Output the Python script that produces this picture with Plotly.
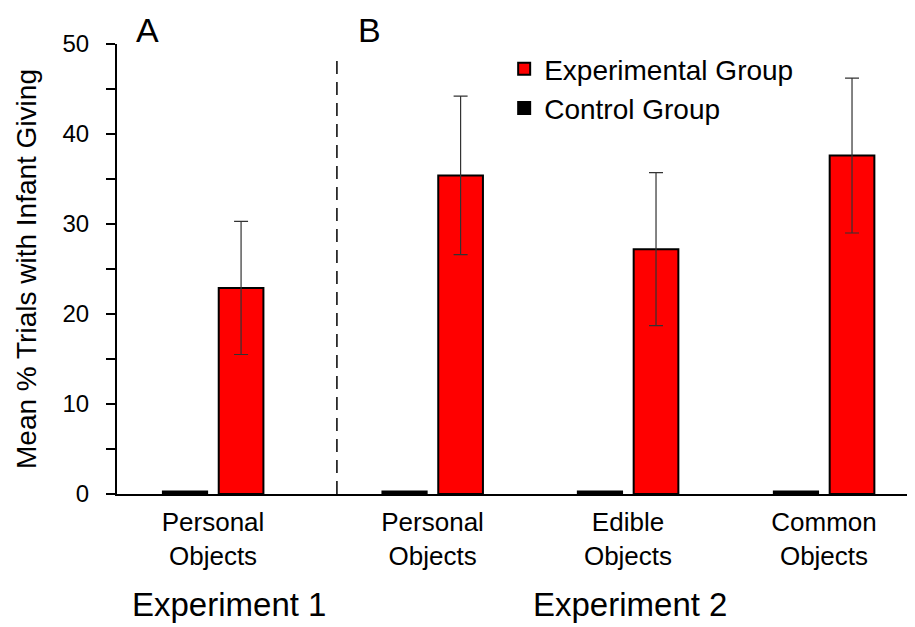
import plotly.graph_objects as go

# ---- data ----
categories = ["Personal<br>Objects", "Personal<br>Objects", "Edible<br>Objects", "Common<br>Objects"]
experimental_mean = [22.9, 35.4, 27.2, 37.6]
experimental_err = [7.4, 8.8, 8.5, 8.6]
control_mean = [0.3, 0.3, 0.3, 0.3]
experiment_labels = ["Experiment 1", "Experiment 2"]
panel_labels = ["A", "B"]
y_ticks = [0, 10, 20, 30, 40, 50]

# ---- layout constants (axis units: 1 unit ~ one category slot) ----
group_pos = [0.49, 1.61, 2.607, 3.607]
offset = 0.143
bar_w = 0.228
x_range = [0, 4.056]
divider_x = 1.122

FONT = "Arial, 'Liberation Sans', sans-serif"

fig = go.Figure()
fig.add_trace(go.Bar(
    x=[p - offset for p in group_pos], y=control_mean, width=bar_w,
    name="Control Group", marker=dict(color="black", line=dict(color="black", width=1.5)),
))
fig.add_trace(go.Bar(
    x=[p + offset for p in group_pos], y=experimental_mean, width=bar_w,
    name="Experimental Group",
    marker=dict(color="#ff0000", line=dict(color="black", width=2)),
    error_y=dict(type="data", array=experimental_err, visible=True,
                 color="#333", thickness=1.2, width=7),
))

fig.add_shape(type="line", x0=divider_x, x1=divider_x, y0=0, y1=48.9,
              xref="x", yref="y", line=dict(color="black", width=1.5, dash="13px,8px"))

fig.add_annotation(x=0.158, y=1.031, xref="x", yref="paper", text=panel_labels[0],
                   yanchor="middle", showarrow=False, font=dict(size=34, color="black", family=FONT))
fig.add_annotation(x=1.29, y=1.031, xref="x", yref="paper", text=panel_labels[1],
                   yanchor="middle", showarrow=False, font=dict(size=34, color="black", family=FONT))
fig.add_annotation(x=0.569, y=-0.245, xref="x", yref="paper", text=experiment_labels[0],
                   yanchor="middle", showarrow=False, font=dict(size=33, color="black", family=FONT))
fig.add_annotation(x=2.617, y=-0.245, xref="x", yref="paper", text=experiment_labels[1],
                   yanchor="middle", showarrow=False, font=dict(size=33, color="black", family=FONT))

fig.update_layout(
    width=915, height=627,
    margin=dict(l=109, r=11, t=36, b=141),
    paper_bgcolor="white", plot_bgcolor="white",
    font=dict(family=FONT, color="black", size=24),
    barmode="overlay",
    showlegend=True,
    legend=dict(x=0.487, y=1.0, xanchor="left", yanchor="top", traceorder="reversed",
                font=dict(size=28, family=FONT), bgcolor="rgba(0,0,0,0)",
                itemsizing="constant", tracegroupgap=0),
    xaxis=dict(range=x_range, tickvals=group_pos, ticktext=categories, automargin=False,
               showline=True, linecolor="black", linewidth=2, ticks="",
               showgrid=False, zeroline=False, tickfont=dict(size=26), ticklabelstandoff=4),
    yaxis=dict(range=[0, 50], tickvals=y_ticks, showline=True, linecolor="black",
               linewidth=2, ticks="outside", ticklen=9, tickwidth=1.5, tickcolor="black",
               showgrid=False, zeroline=False, tickfont=dict(size=24), automargin=False,
               ticklabelstandoff=12,
               minor=dict(dtick=5, ticks="outside", ticklen=9, tickwidth=1.5, tickcolor="black"),
               title=dict(text="Mean % Trials with Infant Giving", font=dict(size=28), standoff=18)),
)

fig.write_html("out.html")
